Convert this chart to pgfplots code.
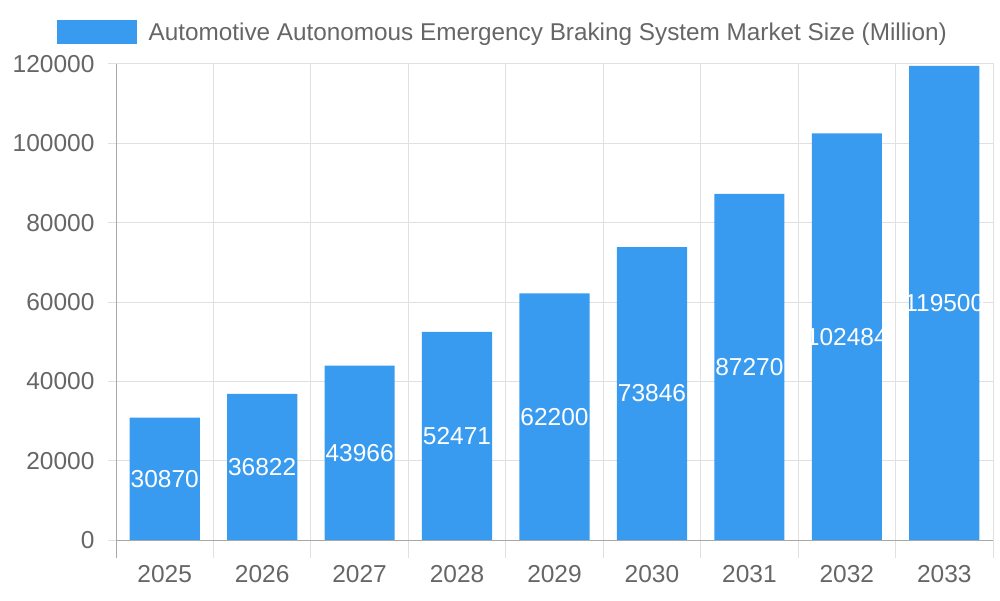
\documentclass[border=0pt]{standalone}
\usepackage{pgfplots}
\pgfplotsset{compat=1.18}
\usepackage{pgfplotstable}
\usepackage{fontspec}
\setmainfont{Liberation Sans}
\definecolor{barblue}{HTML}{389BF0}
\definecolor{txtgray}{HTML}{666666}
\definecolor{gridgray}{HTML}{E0E0E0}
\definecolor{axgray}{HTML}{A8A8A8}
\pgfplotstableread{
x v
0 30870
1 36822
2 43966
3 52471
4 62200
5 73846
6 87270
7 102484
8 119500
}\datatable
\begin{document}
\begin{tikzpicture}[x=1pt,y=1pt]
\useasboundingbox (0,0) rectangle (1000,600);
\begin{axis}[
  at={(116pt,60pt)}, anchor=south west,
  scale only axis, width=877pt, height=476pt,
  xmin=-0.5, xmax=8.5, ymin=0, ymax=120000,
  axis line style={gridgray, line width=1pt},
  tick pos=left, tick align=outside,
  xtick={0,...,8},
  xticklabels={2025,2026,2027,2028,2029,2030,2031,2032,2033},
  minor xtick={-0.5,0.5,...,8.5},
  xminorgrids, minor grid style={gridgray, line width=1pt},
  minor x tick style={gridgray, line width=1pt},
  minor tick length=18pt,
  major x tick style={draw=none},
  ytick={0,20000,...,120000},
  ymajorgrids, major grid style={gridgray, line width=1pt},
  y tick style={gridgray, line width=1pt},
  major tick length=8pt,
  scaled y ticks=false,
  yticklabel style={xshift=-10pt, /pgf/number format/fixed, /pgf/number format/precision=0, /pgf/number format/1000 sep={}, /pgf/number format/assume math mode=true},
  tick label style={font=\fontsize{24.5}{28}\selectfont, text=txtgray},
  xticklabel style={yshift=-14pt},
  legend style={at={(0.4410,1.0672)}, anchor=center, draw=none, fill=none,
    font=\fontsize{24.3}{28}\selectfont, text=txtgray},
  legend image code/.code={\fill[barblue] (0pt,-12pt) rectangle (80pt,12pt); \path (90pt,0pt);},
  after end axis/.code={
    \draw[axgray, line width=1pt] (rel axis cs:0,0) -- (rel axis cs:1,0);
    \draw[axgray, line width=1pt] ([yshift=-18pt]rel axis cs:0,0) -- (rel axis cs:0,1);
  },
]
\addplot[ybar, bar width=0.72, fill=barblue, draw=none] table[x=x, y=v] {\datatable};
\addlegendentry{Automotive Autonomous Emergency Braking System Market Size (Million)}
\addplot[forget plot, draw=none, mark=none,
  point meta=explicit symbolic,
  nodes near coords,
  every node near coord/.append style={anchor=center, text=white,
    font=\fontsize{24.5}{28}\selectfont}]
  table[x=x, y expr=\thisrow{v}/2, meta=v] {\datatable};
\end{axis}
\end{tikzpicture}
\end{document}
